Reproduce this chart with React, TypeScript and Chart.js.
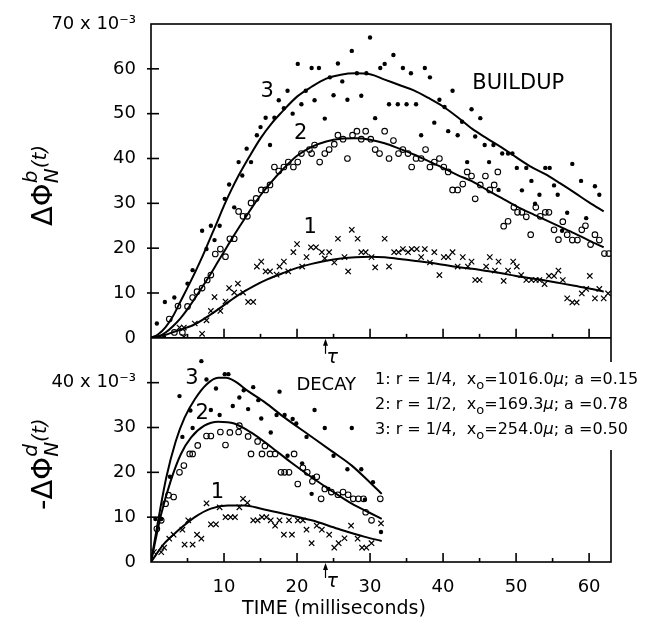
import React, { useEffect, useRef } from 'react';
import { Chart, registerables } from 'chart.js';

Chart.register(...registerables);

const FONT = '"DejaVu Sans", sans-serif';

// ---------- axes ----------
const X_MAX = 63;
const X_TICKS = [10, 20, 30, 40, 50, 60];
const TOP_Y_TICKS = [0, 10, 20, 30, 40, 50, 60, 70];
const BOT_Y_TICKS = [0, 10, 20, 30, 40];
const TOP_Y_MAX = 70;
const BOT_Y_MAX = 50;
const TAU = 23.9;

// ---------- BUILDUP fitted curves ----------
const buildupCurve3X = [0, 1, 2, 3, 4, 5, 6, 7, 8, 9, 10, 11, 12, 13.5, 15, 16.5, 18, 20, 22, 24, 26, 28, 30, 32, 34, 36, 38, 40, 42, 44, 46, 48, 50, 52, 54, 56, 58, 60, 62];
const buildupCurve3Y = [0, 0.8, 2.4, 4.8, 8, 11.2, 14.5, 18, 21.8, 25.6, 29.5, 33, 36.2, 40.5, 44.5, 47.8, 50.5, 53.8, 56, 57.8, 58.7, 59, 58.8, 57.6, 56.4, 55.2, 53.5, 51.6, 49.2, 46.6, 44.5, 42.5, 40.3, 38.2, 36.5, 34.5, 32.4, 30.2, 28.2];

const buildupCurve2X = [0, 1, 2, 3, 4, 5, 6, 7, 8, 9, 10, 11, 12, 13, 14, 15, 16.5, 18, 20, 22, 24, 26, 28, 30, 32, 34, 36, 38, 40, 42, 44, 46, 48, 50, 52, 54, 56, 58, 60, 62];
const buildupCurve2Y = [0, 0.3, 1.2, 2.6, 4.3, 6.4, 8.8, 11.3, 13.8, 16.5, 19.2, 21.9, 24.5, 27, 29.5, 31.8, 34.8, 37.5, 40.6, 42.6, 43.8, 44.4, 44.5, 44.2, 43.4, 42.2, 40.9, 39.4, 37.9, 36.3, 34.9, 33, 31.2, 29.4, 27.8, 26.3, 24.8, 23.3, 21.7, 20.2];

const buildupCurve1X = [0, 2, 4, 6, 8, 10, 12, 14, 16, 18, 20, 22, 24, 26, 28, 30, 32, 34, 36, 38, 40, 42, 44, 46, 48, 50, 52, 54, 56, 58, 60, 62];
const buildupCurve1Y = [0, 0.7, 1.8, 3.0, 5.0, 7.3, 9.6, 11.5, 13.1, 14.4, 15.6, 16.5, 17.2, 17.7, 18.0, 18.1, 18.0, 17.6, 17.2, 16.8, 16.3, 15.8, 15.4, 14.9, 14.4, 13.8, 13.3, 12.8, 12.2, 11.6, 11.0, 10.3];

// ---------- DECAY fitted curves ----------
const decayCurve3X = [0, 0.9, 2.1, 3.4, 4.6, 6.0, 7.6, 9.2, 10.3, 11.4, 13.3, 15.6, 18.3, 21.5, 24.7, 27.5, 30.2, 31.6];
const decayCurve3Y = [0, 8.5, 18.9, 27, 32.2, 36.3, 39.6, 41.1, 41.1, 40.4, 38.1, 35.6, 32.2, 28.5, 24.8, 21.5, 17.4, 15.2];

const decayCurve2X = [0, 1.4, 2.7, 4.1, 5.5, 7.3, 9.2, 11.4, 13.7, 16.5, 19.2, 22.0, 24.7, 27.5, 29.8, 31.6];
const decayCurve2Y = [0, 10.7, 18.1, 24.1, 27.8, 30.4, 31.3, 30.9, 28.9, 25.6, 22.2, 18.9, 15.9, 13.0, 11.1, 9.6];

const decayCurve1X = [0, 1.8, 3.7, 6.0, 8.2, 10.5, 12.8, 15.1, 18.3, 22.0, 25.6, 29.3, 31.6];
const decayCurve1Y = [0, 4.1, 7.0, 10.0, 11.9, 12.6, 12.6, 11.9, 10.7, 9.3, 7.4, 5.6, 4.7];

// ---------- BUILDUP measured points ----------
const buildup3Points = [[0.8,3.2],[1.8,0.1],[1.9,8.0],[3.2,9.0],[5.0,12.1],[5.7,15.1],[7.6,19.8],[7.0,23.9],[8.2,25.0],[8.7,21.8],[9.4,25.0],[10.1,31.0],[10.7,34.2],[11.4,29.1],[12.0,39.2],[12.5,36.2],[13.1,42.2],[13.7,39.2],[14.5,45.2],[15.0,47.0],[15.7,49.1],[16.3,43.0],[16.9,49.1],[17.5,53.0],[18.2,51.2],[18.7,55.1],[19.4,50.0],[20.1,61.1],[20.6,52.1],[21.2,55.1],[22.0,60.2],[22.4,53.0],[23.0,60.2],[23.8,48.9],[24.5,58.1],[25.0,54.1],[25.6,61.2],[26.2,57.2],[26.9,53.1],[27.5,64.0],[28.2,59.0],[28.8,54.0],[29.5,59.0],[30.0,67.0],[30.7,49.0],[31.4,60.2],[32.0,61.1],[32.6,52.1],[33.2,63.1],[33.8,52.1],[34.5,60.2],[35.0,52.1],[35.6,59.0],[36.3,52.1],[37.0,45.2],[37.5,60.2],[38.2,58.1],[38.8,48.0],[39.5,53.1],[40.2,51.5],[40.7,46.1],[41.3,55.1],[42.0,45.2],[42.6,48.2],[43.3,39.2],[43.9,51.0],[44.4,44.9],[45.1,49.0],[45.7,43.0],[46.3,39.2],[46.9,43.0],[47.6,33.0],[48.1,41.1],[48.9,41.1],[49.5,41.1],[50.1,37.9],[50.8,32.9],[51.4,37.9],[52.1,35.0],[52.6,29.9],[53.2,31.9],[54.0,37.9],[54.6,37.9],[55.2,34.0],[55.7,31.9],[56.3,23.9],[57.0,27.9],[57.7,38.8],[58.9,35.0],[59.6,26.7],[60.8,33.8],[61.4,31.9]];

const buildup2Points = [[3.2,1.2],[4.3,1.2],[2.5,4.2],[3.7,7.1],[5.0,7.0],[5.7,9.0],[6.3,10.3],[7.0,11.1],[7.7,12.9],[8.2,14.0],[8.8,18.7],[9.5,19.8],[10.2,18.1],[10.8,22.1],[11.4,22.1],[12.0,28.2],[12.6,27.1],[13.2,27.1],[13.7,30.1],[14.4,31.1],[15.1,33.0],[15.7,33.0],[16.3,34.1],[16.9,38.1],[17.5,37.2],[18.2,38.1],[18.8,39.2],[19.5,38.1],[20.1,39.2],[20.6,41.1],[21.7,42.0],[22.0,41.1],[22.4,43.0],[23.1,39.2],[23.8,41.1],[24.4,42.0],[25.1,43.2],[25.6,45.2],[26.3,44.3],[26.9,40.0],[27.6,45.2],[28.2,46.1],[28.8,44.3],[29.4,46.1],[30.1,44.3],[30.7,42.0],[31.3,41.1],[32.0,46.1],[32.6,40.0],[33.2,44.0],[33.9,41.1],[34.5,42.0],[35.2,41.1],[35.7,38.1],[36.3,40.0],[37.0,40.0],[37.6,42.0],[38.2,38.1],[38.8,39.2],[39.5,40.0],[40.1,38.1],[40.7,37.0],[41.3,33.0],[42.0,33.0],[42.7,34.3],[43.3,37.0],[43.9,36.1],[44.4,31.0],[45.1,34.1],[45.8,36.1],[46.4,33.0],[47.0,34.1],[47.5,37.0],[48.3,24.9],[48.9,26.0],[49.7,29.1],[50.2,28.0],[50.8,28.0],[51.4,27.0],[52.0,23.0],[52.7,29.1],[53.3,27.1],[54.0,28.0],[54.5,28.0],[55.2,24.1],[55.8,21.9],[56.4,25.9],[57.0,23.0],[57.7,21.8],[58.4,21.8],[59.0,24.1],[59.5,25.0],[60.2,20.8],[60.8,23.0],[61.4,21.8],[62.1,18.8],[62.7,18.8]];

const buildup1Points = [[4.5,0.2],[7.0,0.9],[3.9,2.3],[4.5,2.3],[6.0,3.2],[7.6,3.9],[8.2,6.0],[9.5,6.0],[8.7,9.1],[10.2,8.1],[10.7,11.1],[11.4,10.1],[11.9,12.1],[12.6,10.1],[13.3,8.0],[14.0,8.0],[14.5,15.9],[15.1,17.0],[15.7,14.8],[16.3,14.8],[17.2,14.1],[17.6,15.9],[18.2,17.0],[18.8,14.8],[19.5,19.1],[20.0,20.9],[20.7,15.9],[21.3,18.0],[21.9,20.2],[22.6,20.2],[23.4,19.1],[23.8,17.7],[24.4,19.1],[25.1,16.8],[25.6,22.1],[26.5,18.0],[27.0,14.8],[27.5,24.1],[28.3,22.1],[28.8,19.1],[29.4,19.1],[30.2,18.0],[30.7,15.7],[32.0,22.1],[32.6,15.9],[33.3,19.1],[33.9,19.1],[34.5,19.8],[35.2,19.1],[35.7,19.8],[36.4,19.8],[37.0,18.0],[37.5,19.8],[38.2,16.8],[38.8,19.1],[39.5,14.0],[40.1,18.0],[40.7,18.0],[41.3,19.1],[42.0,15.9],[42.7,18.0],[43.4,15.9],[43.9,17.0],[44.4,12.9],[45.0,12.9],[45.9,15.9],[46.4,18.0],[47.1,15.0],[47.6,17.0],[48.3,12.7],[48.9,15.0],[49.6,17.0],[50.1,15.9],[50.7,14.0],[51.4,12.9],[52.1,12.9],[52.7,12.9],[53.2,12.9],[53.9,12.0],[54.5,13.8],[55.2,13.8],[55.8,15.0],[56.4,12.9],[57.0,8.8],[57.7,7.9],[58.3,7.9],[59.0,9.9],[59.6,10.9],[60.1,13.8],[60.8,8.8],[61.4,10.9],[62.0,8.8],[62.6,9.9]];

// ---------- DECAY measured points ----------
const decay3Points = [[0.6,9.6],[1.4,9.6],[2.6,19.0],[3.9,37.0],[4.3,27.9],[5.4,33.8],[5.7,29.9],[6.9,44.8],[7.6,40.7],[8.2,33.9],[8.9,38.7],[9.4,32.8],[10.1,41.9],[10.6,41.9],[11.2,34.8],[12.1,36.7],[12.7,38.3],[13.3,34.1],[14.0,39.0],[14.7,36.1],[15.1,32.0],[16.4,28.9],[17.2,32.8],[17.6,38.0],[18.3,32.8],[18.7,23.7],[19.4,31.9],[19.9,30.9],[20.7,22.0],[21.3,27.9],[22.0,15.2],[22.2,18.9],[22.4,33.9],[23.8,29.9],[24.3,16.3],[25.0,23.7],[26.9,20.7],[27.5,29.9],[28.8,20.7],[29.3,13.9],[30.4,17.8],[31.5,6.7]];

const decay2Points = [[0.8,7.4],[1.4,9.3],[2.0,13.0],[2.4,14.9],[3.1,14.5],[3.9,20.0],[4.5,21.5],[5.3,24.1],[5.7,24.1],[6.4,26.0],[7.6,28.1],[8.2,28.1],[9.5,29.0],[10.2,26.1],[10.8,28.9],[12.0,29.0],[12.1,30.4],[13.3,28.0],[13.7,24.1],[14.6,26.9],[15.2,24.1],[15.6,25.9],[16.3,24.1],[17.0,24.1],[17.8,20.0],[18.3,20.0],[18.9,20.0],[19.6,24.1],[20.1,17.4],[20.8,21.0],[21.4,20.0],[22.1,18.0],[22.7,19.0],[23.3,14.1],[23.8,16.3],[24.7,15.6],[25.6,15.0],[26.3,15.6],[27.0,15.0],[27.7,14.1],[28.4,14.1],[29.1,14.1],[29.4,11.1],[30.2,9.3],[31.4,14.1]];

const decay1Points = [[0.4,2.2],[1.4,2.2],[1.8,3.2],[2.5,5.2],[3.1,6.1],[4.3,7.2],[4.6,3.9],[5.1,9.3],[5.7,3.9],[6.3,6.1],[6.9,5.2],[7.6,13.1],[8.2,8.4],[8.9,8.4],[9.4,12.2],[10.2,10.0],[10.9,10.0],[11.5,10.0],[12.1,12.2],[12.6,14.1],[13.2,13.2],[14.0,9.3],[14.6,9.3],[15.2,10.0],[15.8,10.0],[16.4,9.3],[17.0,8.1],[17.6,9.3],[18.2,6.1],[18.9,9.3],[19.3,6.1],[20.1,9.3],[20.8,9.3],[21.3,7.2],[22.0,4.2],[22.7,8.1],[23.4,7.2],[24.4,6.1],[25.1,3.2],[25.7,4.2],[26.5,5.3],[27.4,8.1],[28.3,5.2],[28.9,3.2],[29.5,3.2],[30.2,4.2],[31.5,8.6]];

// ---------- text ----------
const LEGEND_LINES = [
  { n: '1', r: '1/4', x0: '1016.0', a: '0.15' },
  { n: '2', r: '1/2', x0: '169.3', a: '0.78' },
  { n: '3', r: '1/4', x0: '254.0', a: '0.50' },
];
const CURVE_LABELS_TOP = [
  { text: '3', x: 15.9, y: 55 },
  { text: '2', x: 20.5, y: 45.6 },
  { text: '1', x: 21.8, y: 24.6 },
];
const CURVE_LABELS_BOT = [
  { text: '3', x: 5.6, y: 40.9 },
  { text: '2', x: 7.0, y: 33.1 },
  { text: '1', x: 9.1, y: 15.6 },
];

const toXY = (xs: number[], ys: number[]) => xs.map((x, i) => ({ x, y: ys[i] }));
const ptsXY = (p: number[][]) => p.map(([x, y]) => ({ x, y }));

function curveDS(data: any, axis: string) {
  return {
    data, yAxisID: axis, showLine: true, pointRadius: 0, borderColor: '#000',
    borderWidth: 2, cubicInterpolationMode: 'monotone', fill: false, order: 1,
  };
}
function dotDS(data: any, axis: string) {
  return { data, yAxisID: axis, showLine: false, pointStyle: 'circle', pointRadius: 2.2,
    backgroundColor: '#000', borderColor: '#000', borderWidth: 0, order: 2 };
}
function circDS(data: any, axis: string) {
  return { data, yAxisID: axis, showLine: false, pointStyle: 'circle', pointRadius: 2.8,
    backgroundColor: 'rgba(255,255,255,0)', borderColor: '#000', borderWidth: 1.1, order: 2 };
}
function crossDS(data: any, axis: string) {
  return { data, yAxisID: axis, showLine: false, pointStyle: 'crossRot', pointRadius: 3.8,
    backgroundColor: '#000', borderColor: '#000', borderWidth: 1.2, order: 2 };
}

type Part = { t: string; size: number; italic?: boolean; dy?: number; noAdvance?: boolean };
function drawParts(ctx: CanvasRenderingContext2D, parts: Part[], x: number, y: number) {
  let cx = x;
  for (const p of parts) {
    ctx.font = `${p.italic ? 'italic ' : ''}${p.size}px ${FONT}`;
    ctx.fillText(p.t, cx, y + (p.dy || 0));
    if (!p.noAdvance) cx += ctx.measureText(p.t).width;
  }
  return cx - x;
}

const decorPlugin = {
  id: 'decor',
  afterDraw(chart: any) {
    const { ctx, chartArea: a, scales } = chart;
    const xs = scales.x, yt = scales.yTop, yb = scales.yBot;
    const midY = yt.getPixelForValue(0);
    ctx.save();
    ctx.strokeStyle = '#000';
    ctx.fillStyle = '#000';
    ctx.lineWidth = 1.6;
    const line = (x1: number, y1: number, x2: number, y2: number) => {
      ctx.beginPath(); ctx.moveTo(x1, y1); ctx.lineTo(x2, y2); ctx.stroke();
    };
    ctx.strokeRect(a.left, a.top, a.right - a.left, a.bottom - a.top);
    line(a.left, midY, a.right, midY);
    // x ticks on both horizontal axes
    for (let v = 5; v <= 60; v += 5) {
      const px = xs.getPixelForValue(v);
      const len = v % 10 === 0 ? 9 : 4;
      line(px, midY, px, midY - len);
      line(px, a.bottom, px, a.bottom - len);
    }
    // y ticks
    TOP_Y_TICKS.forEach((v) => {
      if (v > 0 && v < TOP_Y_MAX) { const py = yt.getPixelForValue(v); line(a.left - 4, py, a.left + 8, py); }
    });
    BOT_Y_TICKS.forEach((v) => {
      if (v > 0) { const py = yb.getPixelForValue(v); line(a.left - 4, py, a.left + 8, py); }
    });
    // tau markers
    const tx = xs.getPixelForValue(TAU);
    ctx.lineWidth = 1.2;
    for (const by of [midY, a.bottom]) {
      line(tx, by + 16, tx, by + 3);
      ctx.beginPath(); ctx.moveTo(tx, by + 1); ctx.lineTo(tx - 2.5, by + 8); ctx.lineTo(tx + 2.5, by + 8); ctx.closePath(); ctx.fill();
      ctx.font = `italic 19px ${FONT}`;
      ctx.textAlign = 'left'; ctx.textBaseline = 'alphabetic';
      ctx.fillText('τ', tx + 1, by + 25);
    }
    // curve labels
    ctx.textAlign = 'center'; ctx.textBaseline = 'middle';
    ctx.font = `21px ${FONT}`;
    CURVE_LABELS_TOP.forEach((l) => ctx.fillText(l.text, xs.getPixelForValue(l.x), yt.getPixelForValue(l.y)));
    CURVE_LABELS_BOT.forEach((l) => ctx.fillText(l.text, xs.getPixelForValue(l.x), yb.getPixelForValue(l.y)));
    ctx.font = `21px ${FONT}`;
    ctx.fillText('BUILDUP', xs.getPixelForValue(50.3), yt.getPixelForValue(56.8));
    ctx.font = `18px ${FONT}`;
    ctx.fillText('DECAY', xs.getPixelForValue(24.0), yb.getPixelForValue(39.3));
    // legend block (breaks the right frame)
    ctx.fillStyle = '#fff';
    ctx.fillRect(a.right - 3, 362, 6, 88);
    ctx.fillStyle = '#000';
    ctx.textAlign = 'left'; ctx.textBaseline = 'alphabetic';
    const size = 16;
    LEGEND_LINES.forEach((l, i) => {
      const parts: Part[] = [
        { t: `${l.n}: r = ${l.r},  x`, size },
        { t: 'o', size: size - 3, dy: 5 },
        { t: `=${l.x0}`, size },
        { t: 'μ', size, italic: true },
        { t: `; a =${l.a}`, size },
      ];
      drawParts(ctx, parts, 375, 384 + i * 25);
    });
    // x title
    ctx.textAlign = 'center';
    ctx.font = `19px ${FONT}`;
    ctx.fillText('TIME (milliseconds)', 334, 614);
    // y titles (rotated)
    ctx.textAlign = 'left';
    const drawRot = (startY: number, prefix: string, sup: string) => {
      ctx.save();
      ctx.translate(52, startY);
      ctx.rotate(-Math.PI / 2);
      const parts: Part[] = [
        { t: `${prefix}ΔΦ`, size: 29 },
        { t: sup, size: 20, italic: true, dy: -15, noAdvance: true },
        { t: 'N', size: 20, italic: true, dy: 6 },
        { t: '(t)', size: 20, italic: true, dy: -6 },
      ];
      drawParts(ctx, parts, 0, 0);
      ctx.restore();
    };
    drawRot(226, '', 'b');
    drawRot(510, '-', 'd');
    ctx.restore();
  },
};

export default function App() {
  const ref = useRef<HTMLCanvasElement>(null);
  useEffect(() => {
    document.body.style.margin = '0';
    const tickFont = { family: FONT, size: 18 };
    const chart = new Chart(ref.current as HTMLCanvasElement, {
      type: 'scatter',
      data: {
        datasets: [
          curveDS(toXY(buildupCurve3X, buildupCurve3Y), 'yTop'),
          curveDS(toXY(buildupCurve2X, buildupCurve2Y), 'yTop'),
          curveDS(toXY(buildupCurve1X, buildupCurve1Y), 'yTop'),
          curveDS(toXY(decayCurve3X, decayCurve3Y), 'yBot'),
          curveDS(toXY(decayCurve2X, decayCurve2Y), 'yBot'),
          curveDS(toXY(decayCurve1X, decayCurve1Y), 'yBot'),
          dotDS(ptsXY(buildup3Points), 'yTop'),
          circDS(ptsXY(buildup2Points), 'yTop'),
          crossDS(ptsXY(buildup1Points), 'yTop'),
          dotDS(ptsXY(decay3Points), 'yBot'),
          circDS(ptsXY(decay2Points), 'yBot'),
          crossDS(ptsXY(decay1Points), 'yBot'),
        ] as any,
      },
      options: {
        animation: false,
        responsive: false,
        layout: { padding: { left: 0, right: 39, top: 24, bottom: 0 } },
        plugins: { legend: { display: false }, tooltip: { enabled: false } },
        scales: {
          x: {
            type: 'linear', min: 0, max: X_MAX,
            afterBuildTicks: (s: any) => { s.ticks = X_TICKS.map((v) => ({ value: v })); },
            ticks: { font: tickFont, color: '#000', padding: 7, autoSkip: false, maxRotation: 0 },
            grid: { display: false }, border: { display: false },
            afterFit: (s: any) => { s.height = 61; },
          },
          yBot: {
            type: 'linear', position: 'left', stack: 'v', stackWeight: BOT_Y_MAX, weight: 0,
            min: 0, max: BOT_Y_MAX,
            afterBuildTicks: (s: any) => { s.ticks = BOT_Y_TICKS.map((v) => ({ value: v })); },
            ticks: { font: tickFont, color: '#000', padding: 7, autoSkip: false,
              callback: (v: any) => (v === 40 ? '40 x 10⁻³' : String(v)) },
            grid: { display: false }, border: { display: false },
            afterFit: (s: any) => { s.width = 151; },
          },
          yTop: {
            type: 'linear', position: 'left', stack: 'v', stackWeight: TOP_Y_MAX, weight: 1,
            min: 0, max: TOP_Y_MAX,
            afterBuildTicks: (s: any) => { s.ticks = TOP_Y_TICKS.map((v) => ({ value: v })); },
            ticks: { font: tickFont, color: '#000', padding: 7, autoSkip: false,
              callback: (v: any) => (v === 70 ? '70 x 10⁻³' : String(v)) },
            grid: { display: false }, border: { display: false },
            afterFit: (s: any) => { s.width = 151; },
          },
        } as any,
      },
      plugins: [decorPlugin],
    });
    return () => chart.destroy();
  }, []);
  return (
    <div style={{ width: 650, height: 623, background: '#fff' }}>
      <canvas ref={ref} width={650} height={623} style={{ display: 'block', width: 650, height: 623 }} />
    </div>
  );
}
